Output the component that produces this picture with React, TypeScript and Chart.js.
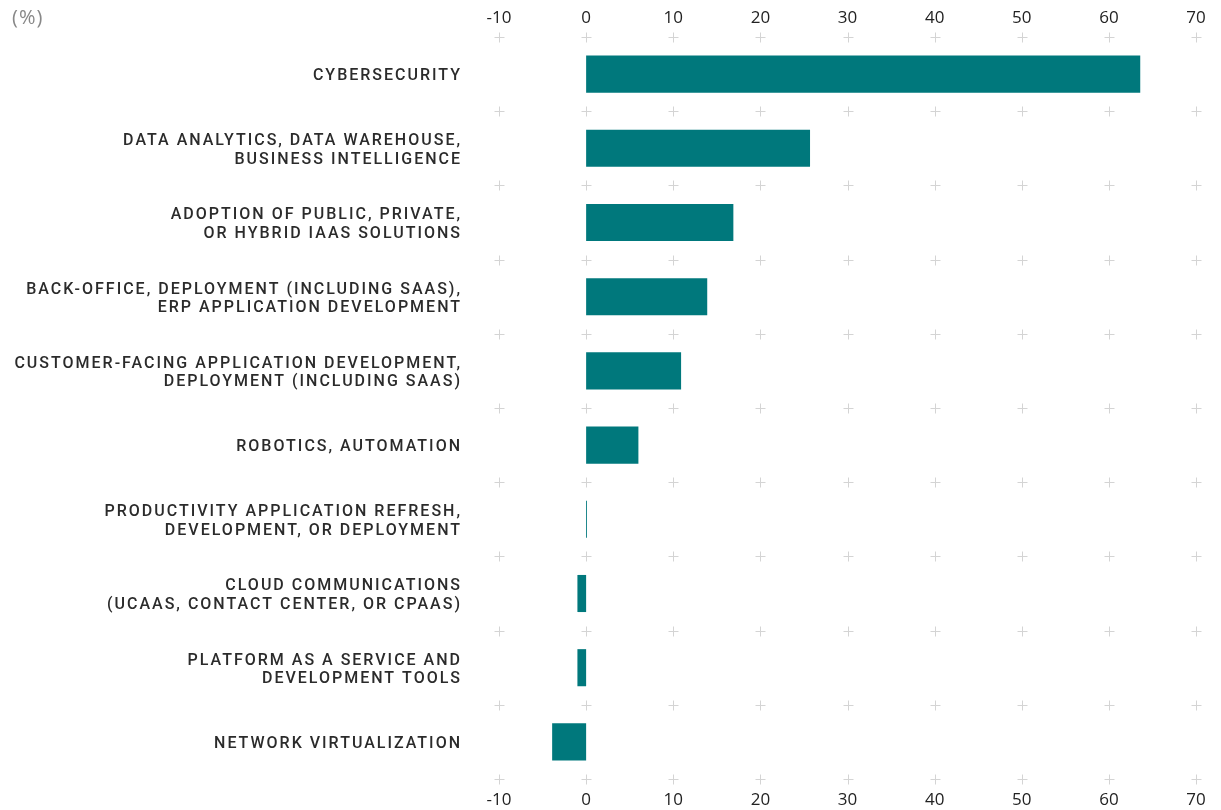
import React, { useEffect, useRef } from "react";
import { Chart, registerables } from "chart.js";

Chart.register(...registerables);

const categories: string[][] = [
  ["CYBERSECURITY"],
  ["DATA ANALYTICS, DATA WAREHOUSE,", "BUSINESS INTELLIGENCE"],
  ["ADOPTION OF PUBLIC, PRIVATE,", "OR HYBRID IAAS SOLUTIONS"],
  ["BACK-OFFICE, DEPLOYMENT (INCLUDING SAAS),", "ERP APPLICATION DEVELOPMENT"],
  ["CUSTOMER-FACING APPLICATION DEVELOPMENT,", "DEPLOYMENT (INCLUDING SAAS)"],
  ["ROBOTICS, AUTOMATION"],
  ["PRODUCTIVITY APPLICATION REFRESH,", "DEVELOPMENT, OR DEPLOYMENT"],
  ["CLOUD COMMUNICATIONS", "(UCAAS, CONTACT CENTER, OR CPAAS)"],
  ["PLATFORM AS A SERVICE AND", "DEVELOPMENT TOOLS"],
  ["NETWORK VIRTUALIZATION"],
];

const values: number[] = [63.6, 25.7, 16.9, 13.9, 10.9, 6.0, 0.1, -1.0, -1.0, -3.9];

const xMin = -10;
const xMax = 70;
const xStep = 10;
const unitLabel = "(%)";

const LABEL_RIGHT = 460;
const LABEL_SPACING = 2;
const LABEL_LINE = 18.4;
const LABEL_SHIFT = 2;

const plusPlugin = {
  id: "plusGrid",
  beforeDatasetsDraw(chart: any) {
    const { ctx, chartArea, scales } = chart;
    const xs = scales.x;
    const ys = scales.y;
    const n = categories.length;
    const h = (chartArea.bottom - chartArea.top) / n;
    ctx.save();
    ctx.strokeStyle = "#d4d4d4";
    ctx.lineWidth = 1;
    for (let v = xMin; v <= xMax; v += xStep) {
      const px = Math.round(xs.getPixelForValue(v)) + 0.5;
      for (let i = 0; i <= n; i++) {
        const py = Math.round(chartArea.top + i * h) + 0.5;
        ctx.beginPath();
        ctx.moveTo(px - 5, py);
        ctx.lineTo(px + 5, py);
        ctx.moveTo(px, py - 5);
        ctx.lineTo(px, py + 5);
        ctx.stroke();
      }
    }
    ctx.restore();

    // category labels with letter spacing
    ctx.save();
    (ctx as any).letterSpacing = LABEL_SPACING + "px";
    ctx.fillStyle = "#2b2b2b";
    ctx.font = "500 16px Roboto";
    ctx.textAlign = "right";
    ctx.textBaseline = "middle";
    categories.forEach((lines, i) => {
      const cy = ys.getPixelForValue(i) + LABEL_SHIFT;
      const y0 = cy - ((lines.length - 1) * LABEL_LINE) / 2;
      lines.forEach((line, j) => {
        ctx.fillText(line, LABEL_RIGHT + LABEL_SPACING, y0 + j * LABEL_LINE);
      });
    });
    ctx.restore();
  },
  afterDraw(chart: any) {
    const { ctx } = chart;
    ctx.save();
    (ctx as any).letterSpacing = "1px";
    ctx.fillStyle = "#888888";
    ctx.font = "20px 'Open Sans'";
    ctx.textBaseline = "middle";
    ctx.textAlign = "left";
    ctx.fillText(unitLabel, 12, 18);
    ctx.restore();
  },
};

export default function App() {
  const ref = useRef<HTMLCanvasElement | null>(null);
  useEffect(() => {
    document.body.style.margin = "0";
    const tickFont = { family: "'Open Sans'", size: 17 };
    const chart = new Chart(ref.current!, {
      type: "bar",
      data: {
        labels: categories.map((c) => c.join(" ")),
        datasets: [
          {
            data: values,
            backgroundColor: "#00787c",
            borderWidth: 0,
            barPercentage: 0.5,
            categoryPercentage: 1,
          },
        ],
      },
      options: {
        indexAxis: "y",
        animation: false,
        responsive: false,
        maintainAspectRatio: false,
        layout: { padding: { left: 0, right: 25, top: 0, bottom: 0 } },
        plugins: { legend: { display: false }, tooltip: { enabled: false } },
        scales: {
          x: {
            position: "top",
            min: xMin,
            max: xMax,
            grid: { display: false, drawTicks: false },
            border: { display: false },
            ticks: { stepSize: xStep, color: "#222", font: tickFont, padding: 9 },
            afterFit: (s: any) => {
              s.height = 37;
              s.paddingLeft = 0;
              s.paddingRight = 0;
            },
          },
          x2: {
            type: "linear",
            axis: "x",
            position: "bottom",
            min: xMin,
            max: xMax,
            grid: { display: false, drawTicks: false },
            border: { display: false },
            ticks: { stepSize: xStep, color: "#222", font: tickFont, padding: 11 },
            afterFit: (s: any) => {
              s.height = 31;
              s.paddingLeft = 0;
              s.paddingRight = 0;
            },
          },
          y: {
            grid: { display: false, drawTicks: false },
            border: { display: false },
            ticks: { display: false },
            afterFit: (s: any) => {
              s.width = 499;
              s.paddingTop = 0;
              s.paddingBottom = 0;
            },
          },
        },
      },
      plugins: [plusPlugin],
    } as any);
    return () => chart.destroy();
  }, []);
  return (
    <div style={{ width: 1221, height: 810 }}>
      <canvas ref={ref} width={1221} height={810} style={{ display: "block" }} />
    </div>
  );
}
